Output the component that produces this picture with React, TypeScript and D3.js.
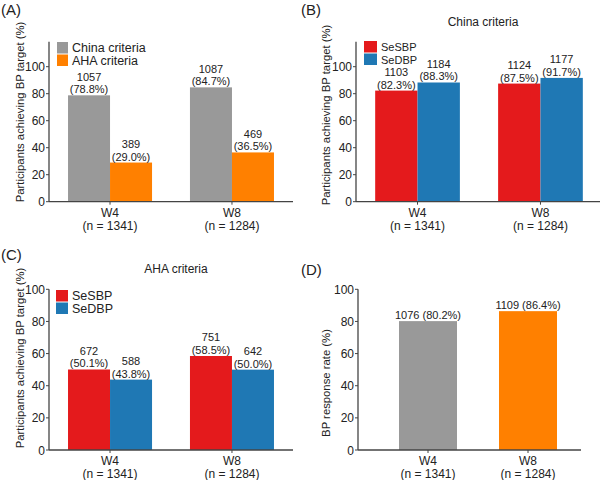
import React, { useEffect } from 'react';
import * as d3 from 'd3';

// ---- data ----
const weeks = ['W4', 'W8'];
const weekN = ['(n = 1341)', '(n = 1284)'];
const yTicks = [0, 20, 40, 60, 80, 100];

// panel A
const criteriaSeries = ['China criteria', 'AHA criteria'];
const criteriaPct = [[78.8, 29.0], [84.7, 36.5]];
const criteriaCount = [[1057, 389], [1087, 469]];

// panel B
const bpSeries = ['SeSBP', 'SeDBP'];
const chinaPct = [[82.3, 88.3], [87.5, 91.7]];
const chinaCount = [[1103, 1184], [1124, 1177]];

// panel C
const ahaPct = [[50.1, 43.8], [58.5, 50.0]];
const ahaCount = [[672, 588], [751, 642]];

// panel D
const responsePct = [80.2, 86.4];
const responseCount = [1076, 1109];

const GRAY = '#999999';
const ORANGE = '#ff8000';
const RED = '#e41a1c';
const BLUE = '#1f78b4';
const AXIS = '#444444';
const FONT = 'Liberation Sans, Arial, Helvetica, sans-serif';

type PanelProps = {
  letter: string;
  letterY: number;
  axisX: number;
  axisEnd: number;
  baseY: number;
  y100: number;
  yMax: number;
  yTitle: string;
  titleX: number;
  titleMid: number;
  title?: string;
  titleY?: number;
  colors: string[];
  colorByWeek?: boolean;
  series: string[];
  pct: number[][];
  count: number[][];
  innerPad: number;
  outerPad: number;
  bandEnd: number;
  legendX?: number;
  legendY?: number;
  legendW?: number;
  legendSize?: number;
  oneLine?: boolean;
  ox: number;
};

function Panel(p: PanelProps) {
  const y = d3.scaleLinear().domain([0, 100]).range([p.baseY, p.y100]);
  const x0 = d3.scaleBand<string>().domain(weeks).range([p.axisX, p.bandEnd])
    .paddingInner(p.innerPad).paddingOuter(p.outerPad);
  const nSeries = p.pct[0].length;
  const x1 = d3.scaleBand<number>().domain(d3.range(nSeries)).range([0, x0.bandwidth()]);
  return (
    <g fontFamily={FONT}>
      <text x={p.ox + 1} y={p.letterY} fontSize={15} fill="#222">{p.letter}</text>
      {p.title && (
        <text x={p.ox + (p.axisX - p.ox + p.axisEnd - p.ox) / 2 + 5} y={p.titleY} fontSize={12} textAnchor="middle" fill="#222">{p.title}</text>
      )}
      <text transform={`translate(${p.titleX},${p.titleMid}) rotate(-90)`} fontSize={11.3} textAnchor="middle" fill="#222">{p.yTitle}</text>
      {/* bars */}
      {weeks.map((w, i) => (
        <g key={w} transform={`translate(${x0(w)},0)`}>
          {p.pct[i].map((v, j) => (
            <g key={j}>
              <rect x={x1(j)} y={y(v)} width={x1.bandwidth()} height={p.baseY - y(v)}
                fill={p.colorByWeek ? p.colors[i] : p.colors[j]} />
              {p.oneLine ? (
                <text x={x1(j)! + x1.bandwidth() / 2} y={y(v) - 2} fontSize={11} textAnchor="middle" fill="#222">
                  {`${p.count[i][j]} (${v.toFixed(1)}%)`}
                </text>
              ) : (
                <>
                  <text x={x1(j)! + x1.bandwidth() / 2} y={y(v) - 14.5} fontSize={11} textAnchor="middle" fill="#222">{p.count[i][j]}</text>
                  <text x={x1(j)! + x1.bandwidth() / 2} y={y(v) - 2} fontSize={11} textAnchor="middle" fill="#222">{`(${v.toFixed(1)}%)`}</text>
                </>
              )}
            </g>
          ))}
        </g>
      ))}
      {/* y axis */}
      <line x1={p.axisX} x2={p.axisX} y1={p.baseY} y2={y(p.yMax)} stroke={AXIS} strokeWidth={1.3} />
      {yTicks.map(t => (
        <g key={t}>
          <line x1={p.axisX - 3} x2={p.axisX} y1={y(t)} y2={y(t)} stroke={AXIS} strokeWidth={1} />
          <text x={p.axisX - 4} y={y(t) + 4.5} fontSize={12} textAnchor="end" fill="#222">{t}</text>
        </g>
      ))}
      {/* x axis */}
      <line x1={p.axisX} x2={p.axisEnd} y1={p.baseY} y2={p.baseY} stroke={AXIS} strokeWidth={1.3} />
      {weeks.map((w, i) => {
        const cx = x0(w)! + x0.bandwidth() / 2;
        return (
          <g key={w}>
            <line x1={cx} x2={cx} y1={p.baseY} y2={p.baseY + 3} stroke={AXIS} />
            <text x={cx} y={p.baseY + 15} fontSize={12} textAnchor="middle" fill="#222">{w}</text>
            <text x={cx} y={p.baseY + 28} fontSize={12} textAnchor="middle" fill="#222">{weekN[i]}</text>
          </g>
        );
      })}
      {/* legend */}
      {p.legendX !== undefined && p.series.map((s, j) => (
        <g key={s} transform={`translate(${p.legendX},${p.legendY! + j * 12.5})`}>
          <rect x={0} y={0} width={p.legendW} height={11.5} fill={p.colors[j]} />
          <text x={p.legendW! + 4} y={10} fontSize={p.legendSize} fill="#222">{s}</text>
        </g>
      ))}
    </g>
  );
}

export default function App() {
  useEffect(() => {
    document.body.style.margin = '0';
  }, []);
  return (
    <svg width={600} height={480} style={{ display: 'block', background: '#fff' }}>
      <Panel
        letter="(A)" letterY={15} ox={0}
        axisX={49} axisEnd={293} bandEnd={293} baseY={201.7} y100={66.7} yMax={118.5}
        yTitle="Participants achieving BP target (%)" titleX={24} titleMid={112}
        colors={[GRAY, ORANGE]} series={criteriaSeries} pct={criteriaPct} count={criteriaCount}
        innerPad={0.311} outerPad={0.156}
        legendX={57} legendY={42} legendW={11} legendSize={12.5}
      />
      <Panel
        letter="(B)" letterY={15} ox={300}
        title="China criteria" titleY={26}
        axisX={356} axisEnd={600} bandEnd={602} baseY={201.7} y100={66.7} yMax={118.5}
        yTitle="Participants achieving BP target (%)" titleX={330} titleMid={115}
        colors={[RED, BLUE]} series={bpSeries} pct={chinaPct} count={chinaCount}
        innerPad={0.311} outerPad={0.156}
        legendX={364} legendY={41} legendW={13} legendSize={11}
      />
      <Panel
        letter="(C)" letterY={260} ox={0}
        title="AHA criteria" titleY={273}
        axisX={49} axisEnd={293} bandEnd={293} baseY={450} y100={289.3} yMax={100}
        yTitle="Participants achieving BP target (%)" titleX={24} titleMid={358}
        colors={[RED, BLUE]} series={bpSeries} pct={ahaPct} count={ahaCount}
        innerPad={0.311} outerPad={0.156}
        legendX={56} legendY={290} legendW={12} legendSize={12.5}
      />
      <Panel
        letter="(D)" letterY={275} ox={300}
        axisX={358} axisEnd={581} bandEnd={598} baseY={450} y100={289.3} yMax={100}
        yTitle="BP response rate (%)" titleX={330} titleMid={383}
        colors={[GRAY, ORANGE]} colorByWeek series={[]} pct={[[responsePct[0]], [responsePct[1]]]}
        count={[[responseCount[0]], [responseCount[1]]]}
        innerPad={0.42} outerPad={0.41} oneLine
      />
    </svg>
  );
}
